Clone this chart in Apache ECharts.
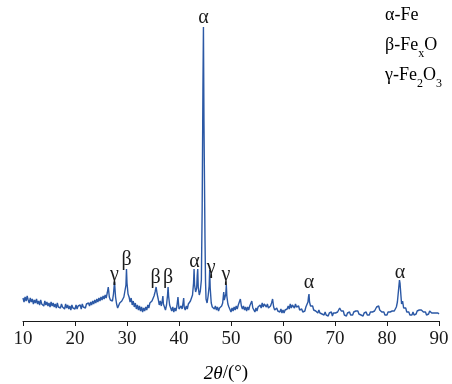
<!DOCTYPE html>
<html>
<head>
<meta charset="utf-8">
<style>
    html, body { margin: 0; padding: 0; background: #fff; }
    #xrd { width: 452px; height: 384px; }
</style>
<script src="https://cdn.jsdelivr.net/npm/echarts@6/dist/echarts.min.js"></script>
</head>
<body>
<div id="xrd"></div>
<script>
// x-axis ticks (2θ, degrees)
const xTicks = [10, 20, 30, 40, 50, 60, 70, 80, 90];

// diffraction pattern: [2θ, intensity (arb.)]
const pattern = [
    [10.0, 23], [10.2, 19], [10.4, 24], [10.6, 20], [10.8, 25], [11.0, 21], [11.2, 18], [11.4, 23], [11.6, 19], [11.8, 22],
    [12.0, 17], [12.2, 21], [12.4, 18], [12.6, 22], [12.8, 17], [13.0, 20], [13.2, 16], [13.4, 21], [13.6, 17], [13.8, 19],
    [14.0, 15], [14.2, 20], [14.4, 16], [14.6, 19], [14.8, 15], [15.0, 18], [15.2, 14], [15.4, 19], [15.6, 15], [15.8, 18],
    [16.0, 14], [16.2, 17], [16.4, 13], [16.6, 18], [16.8, 14], [17.0, 16], [17.2, 13], [17.4, 17], [17.6, 14], [17.8, 16],
    [18.0, 12], [18.2, 17], [18.4, 13], [18.6, 16], [18.8, 12], [19.0, 15], [19.2, 11], [19.4, 16], [19.6, 13], [19.8, 15],
    [20.0, 12], [20.2, 16], [20.4, 12], [20.6, 15], [20.8, 13], [21.0, 16], [21.2, 12], [21.4, 17], [21.6, 14], [21.8, 16],
    [22.0, 13], [22.2, 17], [22.4, 15], [22.6, 18], [22.8, 15], [23.0, 19], [23.2, 16], [23.4, 20], [23.6, 17], [23.8, 21],
    [24.0, 18], [24.2, 22], [24.4, 19], [24.6, 23], [24.8, 20], [25.0, 24], [25.2, 21], [25.4, 25], [25.6, 22], [25.8, 26],
    [26.0, 23], [26.2, 28], [26.4, 34], [26.6, 24], [26.8, 21], [27.0, 23], [27.2, 20], [27.4, 27], [27.6, 39], [27.8, 24],
    [28.0, 17], [28.2, 13], [28.4, 15], [28.6, 18], [28.8, 16], [29.0, 20], [29.2, 19], [29.4, 24], [29.6, 22], [29.8, 36],
    [29.9, 52], [30.0, 38], [30.2, 27], [30.4, 24], [30.6, 19], [30.8, 23], [31.0, 16], [31.2, 20], [31.4, 14], [31.6, 18],
    [31.8, 12], [32.0, 16], [32.2, 11], [32.4, 15], [32.6, 10], [32.8, 14], [33.0, 9], [33.2, 13], [33.4, 10], [33.6, 14],
    [33.8, 11], [34.0, 16], [34.2, 13], [34.4, 18], [34.6, 16], [34.8, 20], [35.0, 19], [35.2, 25], [35.4, 29], [35.6, 34],
    [35.8, 27], [36.0, 22], [36.2, 16], [36.4, 20], [36.6, 15], [36.8, 21], [36.9, 25], [37.0, 17], [37.2, 14], [37.4, 11],
    [37.6, 16], [37.8, 26], [37.9, 34], [38.0, 25], [38.2, 16], [38.4, 13], [38.6, 10], [38.8, 14], [39.0, 9], [39.2, 13],
    [39.4, 10], [39.6, 15], [39.8, 24], [40.0, 12], [40.2, 10], [40.4, 15], [40.6, 12], [40.8, 19], [40.9, 23], [41.0, 14],
    [41.2, 11], [41.4, 15], [41.6, 12], [41.8, 17], [42.0, 15], [42.2, 20], [42.4, 21], [42.6, 26], [42.8, 38], [42.9, 52],
    [43.0, 36], [43.2, 29], [43.4, 33], [43.5, 45], [43.6, 52], [43.7, 34], [43.9, 26], [44.1, 30], [44.3, 41], [44.45, 110],
    [44.6, 230], [44.7, 294], [44.8, 200], [44.9, 140], [45.0, 81], [45.1, 40], [45.2, 22], [45.4, 18], [45.6, 25], [45.8, 35],
    [45.9, 51], [46.0, 33], [46.2, 18], [46.4, 14], [46.6, 16], [46.8, 12], [47.0, 15], [47.2, 11], [47.4, 14], [47.6, 10],
    [47.8, 13], [48.0, 11], [48.2, 15], [48.4, 18], [48.6, 29], [48.7, 21], [48.9, 19], [49.0, 27], [49.1, 36], [49.2, 25],
    [49.4, 17], [49.6, 14], [49.8, 12], [50.0, 9], [50.2, 13], [50.4, 10], [50.6, 14], [50.8, 11], [51.0, 15], [51.2, 12],
    [51.4, 16], [51.6, 18], [51.8, 22], [52.0, 15], [52.2, 12], [52.4, 15], [52.6, 11], [52.8, 14], [53.0, 10], [53.2, 14],
    [53.4, 11], [53.6, 15], [53.8, 17], [54.0, 20], [54.2, 13], [54.4, 11], [54.6, 9], [54.8, 13], [55.0, 10], [55.2, 14],
    [55.4, 12], [55.6, 16], [55.8, 13], [56.0, 18], [56.2, 14], [56.4, 17], [56.6, 19], [56.8, 14], [57.0, 17], [57.2, 13],
    [57.4, 11], [57.6, 15], [57.8, 18], [58.0, 22], [58.2, 14], [58.4, 11], [58.6, 9], [58.8, 13], [59.0, 10], [59.2, 12],
    [59.4, 9], [59.6, 12], [59.8, 8], [60.0, 11], [60.2, 8], [60.4, 11], [60.6, 9], [60.8, 12], [61.0, 15], [61.2, 12],
    [61.4, 17], [61.6, 13], [61.8, 16], [62.0, 18], [62.2, 13], [62.4, 17], [62.6, 14], [62.8, 12], [63.0, 15], [63.2, 11],
    [63.4, 9], [63.6, 12], [63.8, 9], [64.0, 11], [64.2, 10], [64.4, 14], [64.6, 15], [64.8, 19], [64.9, 24], [65.0, 27],
    [65.1, 19], [65.3, 15], [65.5, 13], [65.7, 15], [65.9, 11], [66.1, 13], [66.3, 10], [66.5, 12], [66.7, 8], [66.9, 11],
    [67.1, 8], [67.3, 10], [67.5, 7], [67.7, 9], [67.9, 6], [68.1, 9], [68.3, 6], [68.5, 8], [68.7, 5], [68.9, 8],
    [69.1, 6], [69.3, 9], [69.5, 5], [69.7, 8], [69.9, 6], [70.1, 8], [70.3, 6], [70.5, 9], [70.7, 11], [70.9, 13],
    [71.0, 15], [71.2, 10], [71.4, 8], [71.6, 10], [71.8, 6], [72.0, 8], [72.2, 5], [72.4, 8], [72.6, 6], [72.8, 9],
    [73.0, 6], [73.2, 8], [73.4, 6], [73.6, 9], [73.8, 7], [74.0, 10], [74.2, 8], [74.4, 10], [74.6, 7], [74.8, 9],
    [75.0, 6], [75.2, 8], [75.4, 5], [75.6, 8], [75.8, 6], [76.0, 9], [76.2, 6], [76.4, 8], [76.6, 6], [76.8, 9],
    [77.0, 7], [77.2, 9], [77.4, 7], [77.6, 10], [77.8, 12], [78.0, 14], [78.2, 12], [78.4, 15], [78.6, 11], [78.8, 13],
    [79.0, 9], [79.2, 7], [79.4, 9], [79.6, 6], [79.8, 8], [80.0, 6], [80.2, 9], [80.4, 7], [80.6, 9], [80.8, 7],
    [81.0, 10], [81.2, 8], [81.4, 10], [81.6, 12], [81.8, 14], [82.0, 19], [82.2, 30], [82.4, 41], [82.5, 38], [82.7, 24],
    [82.8, 17], [83.0, 20], [83.2, 13], [83.4, 11], [83.6, 13], [83.8, 9], [84.0, 7], [84.2, 9], [84.4, 6], [84.6, 8],
    [84.8, 6], [85.0, 9], [85.2, 6], [85.4, 8], [85.6, 7], [85.8, 10], [86.0, 9], [86.2, 11], [86.4, 13], [86.6, 11],
    [86.8, 12], [87.0, 9], [87.2, 7], [87.4, 9], [87.6, 6], [87.8, 8], [88.0, 7], [88.2, 10], [88.4, 11], [88.6, 8],
    [88.8, 6], [89.0, 8], [89.2, 6], [89.4, 8], [89.6, 6], [89.8, 8], [90.0, 7]
];

// phase marks above the peaks: [2θ, height, symbol]
const peakLabels = [
    [27.6, 46, 'γ'], [29.9, 61, 'β'], [35.5, 43, 'β'], [37.9, 43, 'β'], [43.0, 59, 'α'],
    [44.7, 303, 'α'], [46.2, 53, 'γ'], [49.0, 46, 'γ'], [65.0, 38, 'α'], [82.5, 48, 'α']
];

// phase key, top right
const phaseKey = [
    '{t|α-Fe}',
    '{t|β-Fe}{s|x}{t|O}',
    '{t|γ-Fe}{s|2}{t|O}{s|3}'
];

const serif = '"Liberation Serif", "DejaVu Serif", serif';
const lineColor = '#2b58a5';
const inkColor = '#1a1a1a';

let chart = echarts.init(document.getElementById('xrd'));

let keyRich = {
    t: { fontFamily: serif, fontSize: 18, color: inkColor },
    s: { fontFamily: serif, fontSize: 12, color: inkColor, verticalAlign: 'bottom', padding: [0, 0, -6, 0] }
};

let option = {
    animation: false,
    grid: { left: 23, right: 13, top: 11, bottom: 63 },
    xAxis: {
        type: 'value',
        min: xTicks[0],
        max: xTicks[xTicks.length - 1],
        interval: 10,
        axisLine: { lineStyle: { color: inkColor, width: 1 } },
        axisTick: { show: true, inside: false, length: 5, lineStyle: { color: inkColor } },
        axisLabel: { color: inkColor, fontFamily: serif, fontSize: 19, margin: 9 },
        splitLine: { show: false }
    },
    yAxis: {
        type: 'value',
        min: 0,
        max: 310,
        show: false
    },
    series: [
        {
            type: 'line',
            data: pattern,
            showSymbol: false,
            lineStyle: { color: lineColor, width: 1.4 },
            z: 2
        },
        {
            type: 'scatter',
            data: peakLabels,
            symbolSize: 1,
            itemStyle: { color: 'rgba(0,0,0,0)' },
            label: {
                show: true,
                position: 'inside',
                formatter: p => p.value[2],
                fontFamily: serif,
                fontSize: 20,
                color: inkColor,
                textBorderWidth: 0,
                opacity: 1
            },
            z: 3
        }
    ],
    graphic: [
        {
            type: 'text',
            left: 385,
            top: 6,
            style: { text: phaseKey[0], rich: keyRich }
        },
        {
            type: 'text',
            left: 385,
            top: 36,
            style: { text: phaseKey[1], rich: keyRich }
        },
        {
            type: 'text',
            left: 385,
            top: 66,
            style: { text: phaseKey[2], rich: keyRich }
        },
        {
            type: 'text',
            left: 'center',
            top: 364,
            style: {
                text: '{i|2θ}{n|/(°)}',
                rich: {
                    i: { fontFamily: serif, fontSize: 19, fontStyle: 'italic', color: inkColor },
                    n: { fontFamily: serif, fontSize: 19, color: inkColor }
                }
            }
        }
    ]
};

chart.setOption(option);
</script>
</body>
</html>
